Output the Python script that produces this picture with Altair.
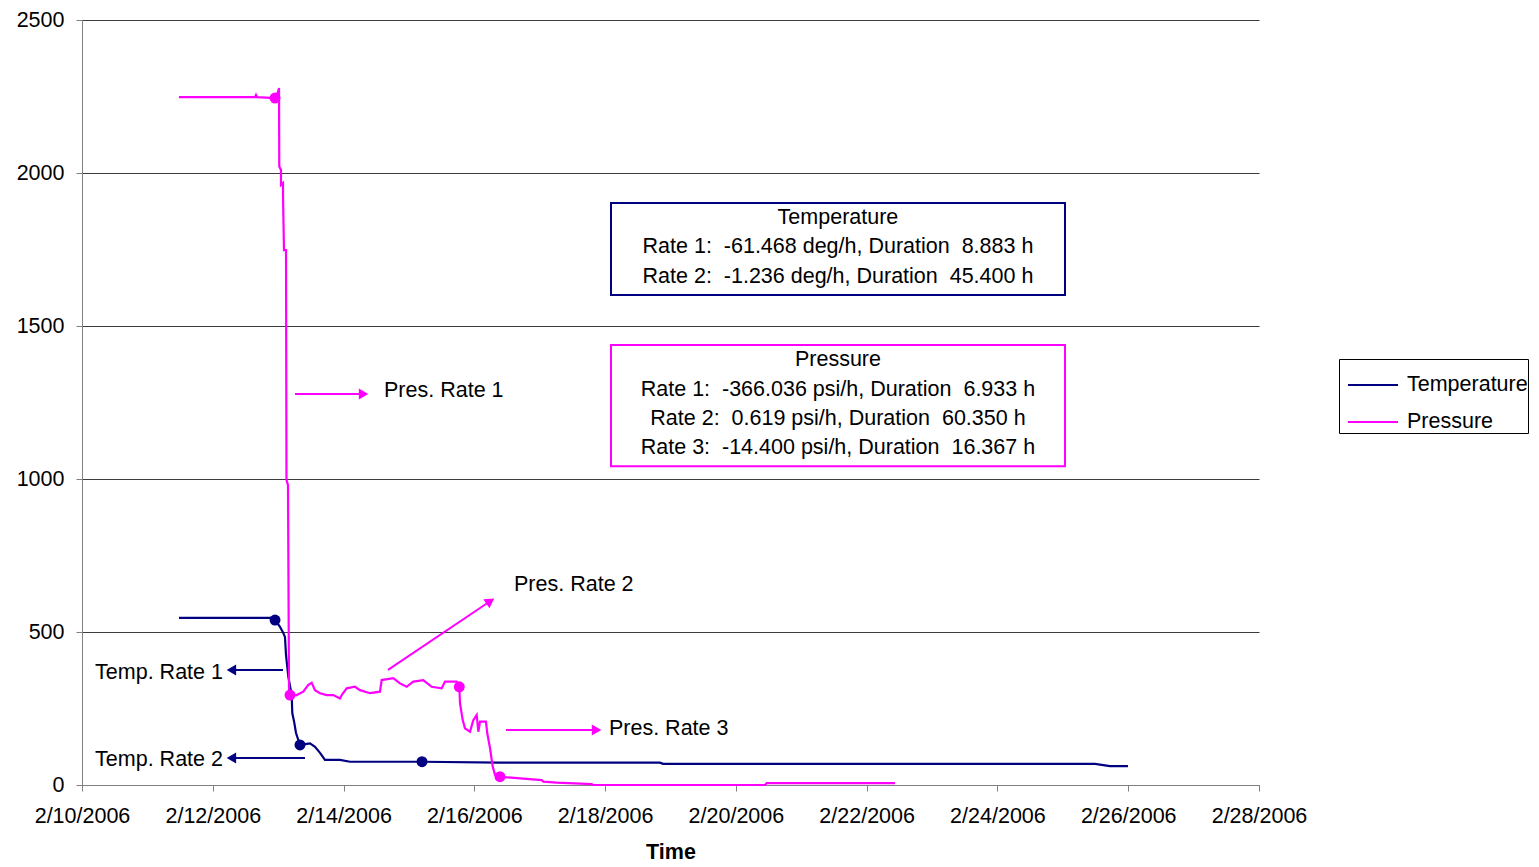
import math
import altair as alt
import pandas as pd

# Time is expressed as days elapsed since 2/10/2006 00:00
temp_days = [1.483, 2.906, 2.952, 3.028, 3.078, 3.104, 3.120, 3.155, 3.207, 3.216,
             3.247, 3.273, 3.308, 3.334, 3.487, 3.563, 3.640, 3.716, 3.946, 4.098,
             5.200, 6.392, 8.839, 8.885, 15.492, 15.721, 15.996]
temp_vals = [546, 546, 539, 517, 497, 484, 425, 354, 294, 235,
             203, 170, 147, 131, 136, 125, 105, 82, 82, 76,
             76, 73, 73, 69, 69, 62, 62]

pres_days = [1.483, 2.646, 2.661, 2.676, 2.952, 2.997, 3.013, 3.017, 3.043, 3.043,
             3.074, 3.074, 3.089, 3.120, 3.127, 3.150, 3.166, 3.181, 3.283, 3.384,
             3.461, 3.513, 3.563, 3.640, 3.742, 3.843, 3.946, 3.972, 4.048, 4.175,
             4.251, 4.404, 4.557, 4.583, 4.760, 4.863, 4.965, 5.066, 5.219, 5.348,
             5.501, 5.551, 5.730, 5.770, 5.781, 5.822, 5.857, 5.934, 5.984, 6.036,
             6.061, 6.087, 6.178, 6.198, 6.240, 6.281, 6.316, 6.392, 7.030, 7.055,
             7.260, 7.795, 7.819, 10.445, 10.471, 12.433]
pres_vals = [2248, 2248, 2255, 2248, 2245, 2265, 2278, 2021, 2010, 1961,
             1967, 1928, 1748, 1748, 997, 980, 310, 294, 294, 305,
             327, 334, 310, 300, 294, 294, 283, 294, 316, 321,
             310, 300, 305, 343, 349, 332, 321, 338, 343, 321,
             316, 338, 338, 321, 267, 212, 185, 174, 212, 229,
             174, 207, 207, 169, 120, 60, 33, 27, 16, 11,
             8, 3, 0, 0, 6, 6]

# Start/end points of the fitted rate segments
temp_marker_days = [2.952, 3.334, 5.200]
temp_marker_vals = [539, 131, 76]
pres_marker_days = [2.952, 3.181, 5.770, 6.392]
pres_marker_vals = [2245, 294, 321, 27]

# Arrow annotations: start, end
arrow_x1 = [3.074, 3.410, 3.257, 4.680, 6.484]
arrow_y1 = [376, 88, 1278, 376, 180]
arrow_x2 = [2.309, 2.309, 4.282, 6.224, 7.845]
arrow_y2 = [376, 88, 1278, 598, 180]
arrow_colors = ["#000080", "#000080", "#FF00FF", "#FF00FF", "#FF00FF"]

label_text = ["Temp. Rate 1", "Temp. Rate 2", "Pres. Rate 1", "Pres. Rate 2", "Pres. Rate 3"]
label_x = [2.156, 2.156, 4.619, 6.607, 8.059]
label_y = [366, 82, 1288, 654, 183]
label_align = ["right", "right", "left", "left", "left"]

# Summary boxes
box_x1 = [8.090, 8.090]
box_x2 = [15.033, 15.033]
box_y1 = [1902, 1438]
box_y2 = [1601, 1042]
box_colors = ["#000080", "#FF00FF"]

NB = "\u00a0"
box_lines = [
    "Temperature",
    f"Rate 1:{NB} -61.468 deg/h, Duration{NB} 8.883 h",
    f"Rate 2:{NB} -1.236 deg/h, Duration{NB} 45.400 h",
    "Pressure",
    f"Rate 1:{NB} -366.036 psi/h, Duration{NB} 6.933 h",
    f"Rate 2:{NB} 0.619 psi/h, Duration{NB} 60.350 h",
    f"Rate 3:{NB} -14.400 psi/h, Duration{NB} 16.367 h",
]
box_line_x = 11.561
box_line_y = [1853, 1758, 1660, 1389, 1291, 1196, 1101]

PLOT_W, PLOT_H = 1177, 765
X_MAX, Y_MAX = 18, 2500
FONT = "Liberation Sans"
FS = 21.5

lines = pd.DataFrame({
    "series": ["Temperature"] * len(temp_days) + ["Pressure"] * len(pres_days),
    "t": temp_days + pres_days,
    "v": temp_vals + pres_vals,
    "idx": list(range(len(temp_days))) + list(range(len(pres_days))),
})

markers = pd.DataFrame({
    "t": temp_marker_days + pres_marker_days,
    "v": temp_marker_vals + pres_marker_vals,
    "c": ["#000080"] * len(temp_marker_days) + ["#FF00FF"] * len(pres_marker_days),
})

# Arrowhead orientation in screen space (degrees clockwise from up)
px_day, px_unit = PLOT_W / X_MAX, PLOT_H / Y_MAX
head_angle = [
    (math.degrees(math.atan2((b - a) * px_day, (d - c) * px_unit)) + 360) % 360
    for a, b, c, d in zip(arrow_x1, arrow_x2, arrow_y1, arrow_y2)
]
arrows = pd.DataFrame({
    "x1": arrow_x1, "y1": arrow_y1, "x2": arrow_x2, "y2": arrow_y2,
    "c": arrow_colors, "ang": head_angle,
})
labels = pd.DataFrame({"text": label_text, "x": label_x, "y": label_y, "align": label_align})
boxes = pd.DataFrame({"x1": box_x1, "x2": box_x2, "y1": box_y1, "y2": box_y2, "c": box_colors})
box_text = pd.DataFrame({"text": box_lines, "x": [box_line_x] * len(box_lines), "y": box_line_y})

x_scale = alt.Scale(domain=[0, X_MAX], nice=False, zero=False)
y_scale = alt.Scale(domain=[0, Y_MAX], nice=False)

x_axis = alt.Axis(
    values=list(range(0, 19, 2)),
    labelExpr="timeFormat(datetime(2006, 1, 10 + datum.value), '%-m/%-d/%Y')",
    grid=False, tickSize=6, labelPadding=14, labelFontSize=FS,
    labelOverlap=False, labelFlush=False,
    title="Time", titleFontSize=FS, titleFontWeight="bold", titlePadding=15,
)
y_axis = alt.Axis(
    values=list(range(0, 2501, 500)), format="d", grid=True, gridColor="#3c3c3c", gridWidth=1,
    tickSize=6, labelPadding=12, labelFontSize=FS, title="",
)


def X(field):
    return alt.X(field, scale=x_scale, axis=x_axis, title="Time")


def Y(field):
    return alt.Y(field, scale=y_scale, axis=y_axis, title="")


line_layer = alt.Chart(lines).mark_line(strokeWidth=2.2, interpolate="linear").encode(
    x=X("t:Q"),
    y=Y("v:Q"),
    order="idx:Q",
    color=alt.Color(
        "series:N",
        scale=alt.Scale(domain=["Temperature", "Pressure"], range=["#000080", "#FF00FF"]),
        legend=alt.Legend(
            title=None, orient="none", legendX=1257, legendY=339,
            symbolType="stroke", symbolSize=2500, symbolStrokeWidth=2,
            symbolOffset=8, labelOffset=8,
            labelFontSize=FS, labelFont=FONT, labelColor="black",
            strokeColor="black", padding=0, rowPadding=-14, labelLimit=300,
        ),
    ),
)

marker_layer = alt.Chart(markers).mark_point(filled=True, size=120, opacity=1, shape="circle").encode(
    x=X("t:Q"), y=Y("v:Q"),
    color=alt.Color("c:N", scale=None),
)

box_layer = alt.Chart(boxes).mark_rect(fill="white", strokeWidth=2).encode(
    x=X("x1:Q"), x2="x2:Q",
    y=Y("y1:Q"), y2="y2:Q",
    stroke=alt.Stroke("c:N", scale=None),
)

box_text_layer = alt.Chart(box_text).mark_text(
    fontSize=FS, font=FONT, color="black", align="center", baseline="middle"
).encode(x=X("x:Q"), y=Y("y:Q"), text="text:N")

arrow_layer = alt.Chart(arrows).mark_rule(strokeWidth=2).encode(
    x=X("x1:Q"), x2="x2:Q",
    y=Y("y1:Q"), y2="y2:Q",
    color=alt.Color("c:N", scale=None),
)

head_layer = alt.Chart(arrows).mark_point(shape="triangle", filled=True, size=120, opacity=1).encode(
    x=X("x2:Q"), y=Y("y2:Q"),
    angle=alt.Angle("ang:Q", scale=None),
    color=alt.Color("c:N", scale=None),
)

label_layers = [
    alt.Chart(labels[labels["align"] == a]).mark_text(
        fontSize=FS, font=FONT, color="black", align=a, baseline="middle"
    ).encode(x=X("x:Q"), y=Y("y:Q"), text="text:N")
    for a in ["left", "right"]
]

chart = alt.layer(
    line_layer, box_layer, box_text_layer, arrow_layer, head_layer, marker_layer, *label_layers
).properties(
    width=PLOT_W, height=PLOT_H,
    autosize=alt.AutoSizeParams(type="none"),
    padding={"left": 82, "top": 20, "right": 280, "bottom": 82},
).configure(font=FONT).configure_view(stroke=None).configure_axis(
    labelFont=FONT, titleFont=FONT, labelColor="black", titleColor="black",
    domainColor="#808080", tickColor="#808080",
)

chart.save("out.html", embed_options={"renderer": "svg", "actions": False})
